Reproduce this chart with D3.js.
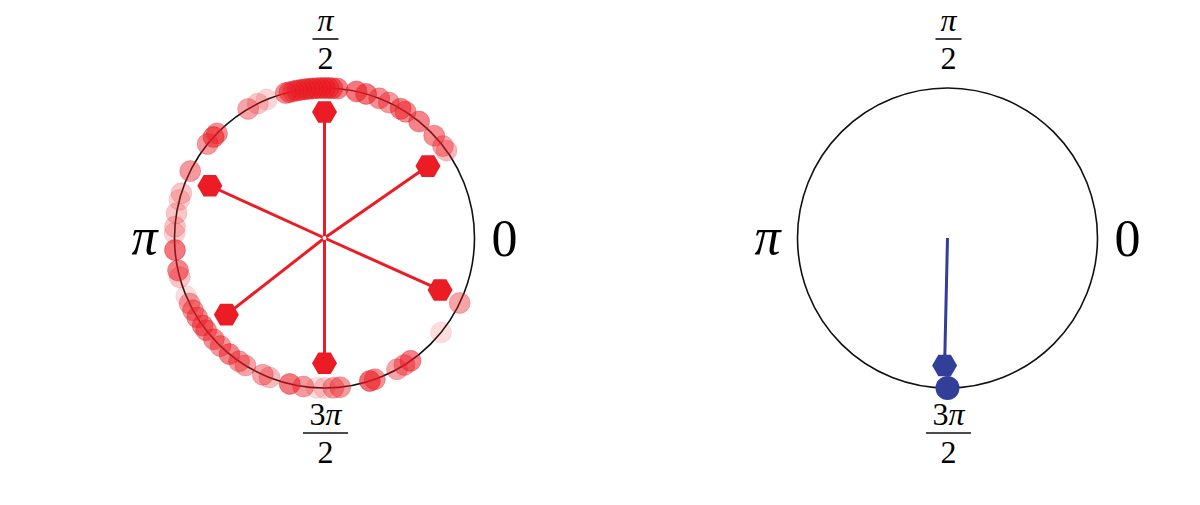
<!DOCTYPE html>
<html>
<head>
<meta charset="utf-8">
<script src="https://cdn.jsdelivr.net/npm/d3@7"></script>
<style>
    body { margin: 0; background: #fff; }
    svg { display: block; }
</style>
</head>
<body>
<div id="chart"></div>
<script>
// Left panel: observed phases (degrees) and how strongly each dot is drawn
const phaseAngles = [35.6, 37.8, 43.0, 50.9, 57.3, 59.5, 64.6, 68.6, 73.9, 77.7,
    85, 87, 88.5, 90, 91.5, 93, 94.5, 96, 97.5, 99, 100.5, 102, 103.5, 105,
    112.7, 116.4, 120.6, 135.8, 137.7, 141.2, 153.5, 162.6, 165.3, 170.5, 175.7, 178.2,
    184.6, 192.5, 195.2, 202.8, 205.9, 208.8, 212, 215.7, 218, 222.5, 226.1, 230.7,
    235.3, 238.2, 245.7, 248.5, 256.6, 261.9, 267, 270, 273.4, 276,
    287.6, 289.6, 298.9, 302.2, 305, 321, 334.3];
const phaseAlphas = [0.3, 0.4, 0.5, 0.55, 0.5, 0.55, 0.45, 0.5, 0.6, 0.6,
    0.55, 0.6, 0.6, 0.6, 0.6, 0.55, 0.6, 0.55, 0.6, 0.5, 0.6, 0.45, 0.55, 0.5,
    0.18, 0.25, 0.4, 0.5, 0.6, 0.45, 0.45, 0.25, 0.2, 0.25, 0.25, 0.2,
    0.6, 0.55, 0.25, 0.15, 0.4, 0.45, 0.5, 0.55, 0.5, 0.5, 0.45, 0.55,
    0.45, 0.4, 0.4, 0.3, 0.6, 0.45, 0.15, 0.2, 0.4, 0.45,
    0.65, 0.5, 0.4, 0.45, 0.55, 0.15, 0.4];

// Left panel: mean vectors (angle in degrees, length 0..1)
const vectorAngles = [90, 34.8, 155.5, 335.8, 218, 270];
const vectorLengths = [0.84, 0.84, 0.84, 0.845, 0.83, 0.835];

// Right panel: all phases locked at the same angle, one mean vector
const lockedAngles = [270];
const lockedVectorAngles = [268.7];
const lockedVectorLengths = [0.85];

const tickLabels = ['0', '\u03c0/2', '\u03c0', '3\u03c0/2'];

const width = 1200, height = 505;
const radius = 150;
const red = '#ec1c24', blue = '#323f99';

const svg = d3.select('#chart')
    .append('svg')
    .attr('width', width)
    .attr('height', height);

const r = d3.scaleLinear().domain([0, 1]).range([0, radius]);
const toRad = d3.scaleLinear().domain([0, 360]).range([0, 2 * Math.PI]);

// math angle (ccw from 3 o'clock) -> x, y
function polar(deg, len) {
    return d3.pointRadial(Math.PI / 2 - toRad(deg), r(len));
}

// hexagon with points left and right, flat top and bottom
const hexagon = {
    draw(context, size) {
        const R = Math.sqrt(size / (1.5 * Math.sqrt(3)));
        for (let i = 0; i < 6; i++) {
            const a = i * Math.PI / 3;
            if (i === 0) context.moveTo(R * Math.cos(a), R * Math.sin(a));
            else context.lineTo(R * Math.cos(a), R * Math.sin(a));
        }
        context.closePath();
    }
};
const hexR = 12.5;
const hexPath = d3.symbol().type(hexagon).size(1.5 * Math.sqrt(3) * hexR * hexR)();

function drawFrame(g) {
    g.append('circle')
        .attr('r', r(1))
        .attr('fill', 'none')
        .attr('stroke', '#111')
        .attr('stroke-width', 1.6);

    const font = '"Liberation Serif", "DejaVu Serif", serif';

    // 0 and pi on the sides
    g.append('text')
        .attr('x', 180).attr('y', 0)
        .attr('dy', '0.35em')
        .attr('text-anchor', 'middle')
        .style('font-family', font)
        .style('font-size', '52px')
        .text(tickLabels[0]);
    g.append('text')
        .attr('x', -180).attr('y', 0)
        .attr('dy', '0.3em')
        .attr('text-anchor', 'middle')
        .style('font-family', font)
        .style('font-size', '52px')
        .style('font-style', 'italic')
        .text(tickLabels[2]);

    // fractions at the top and bottom
    const fracs = [
        { num: tickLabels[1].split('/')[0], den: '2', bar: -199, w: 26 },
        { num: tickLabels[3].split('/')[0], den: '2', bar: 195, w: 45 }
    ];
    fracs.forEach(f => {
        const fg = g.append('g').attr('transform', `translate(1,${f.bar})`);
        fg.append('line')
            .attr('x1', -f.w / 2).attr('x2', f.w / 2)
            .attr('stroke', '#111')
            .attr('stroke-width', 1.6);
        const num = fg.append('text')
            .attr('y', -8)
            .attr('text-anchor', 'middle')
            .style('font-family', font)
            .style('font-size', '32px');
        if (f.num.length > 1) {
            num.append('tspan').text(f.num[0]);
            num.append('tspan').style('font-style', 'italic').text(f.num.slice(1));
        } else {
            num.style('font-style', 'italic').text(f.num);
        }
        fg.append('text')
            .attr('y', 30)
            .attr('text-anchor', 'middle')
            .style('font-family', font)
            .style('font-size', '32px')
            .text(f.den);
    });
}

function drawVectors(g, angles, lengths, color) {
    const ends = angles.map((a, i) => polar(a, lengths[i]));
    g.selectAll('line.vec')
        .data(ends)
        .enter()
        .append('line')
        .attr('class', 'vec')
        .attr('x1', 0).attr('y1', 0)
        .attr('x2', d => d[0]).attr('y2', d => d[1])
        .attr('stroke', color)
        .attr('stroke-width', 3);
    g.selectAll('path.hex')
        .data(ends)
        .enter()
        .append('path')
        .attr('class', 'hex')
        .attr('d', hexPath)
        .attr('transform', d => `translate(${d[0]},${d[1]})`)
        .attr('fill', color);
}

// left panel
const left = svg.append('g').attr('transform', 'translate(324.5,238)');
drawFrame(left);
left.selectAll('circle.phase')
    .data(phaseAngles)
    .enter()
    .append('circle')
    .attr('class', 'phase')
    .attr('cx', d => polar(d, 1)[0])
    .attr('cy', d => polar(d, 1)[1])
    .attr('r', 10.5)
    .attr('fill', red)
    .attr('fill-opacity', (d, i) => phaseAlphas[i])
    .attr('stroke', '#d01018')
    .attr('stroke-opacity', (d, i) => phaseAlphas[i] * 0.6)
    .attr('stroke-width', 1);
drawVectors(left, vectorAngles, vectorLengths, red);
left.append('circle')
    .attr('r', 2)
    .attr('fill', '#fff');

// right panel
const right = svg.append('g').attr('transform', 'translate(947.5,238)');
drawFrame(right);
drawVectors(right, lockedVectorAngles, lockedVectorLengths, blue);
right.selectAll('circle.phase')
    .data(lockedAngles)
    .enter()
    .append('circle')
    .attr('class', 'phase')
    .attr('cx', d => polar(d, 1)[0])
    .attr('cy', d => polar(d, 1)[1])
    .attr('r', 12)
    .attr('fill', blue);
</script>
</body>
</html>
